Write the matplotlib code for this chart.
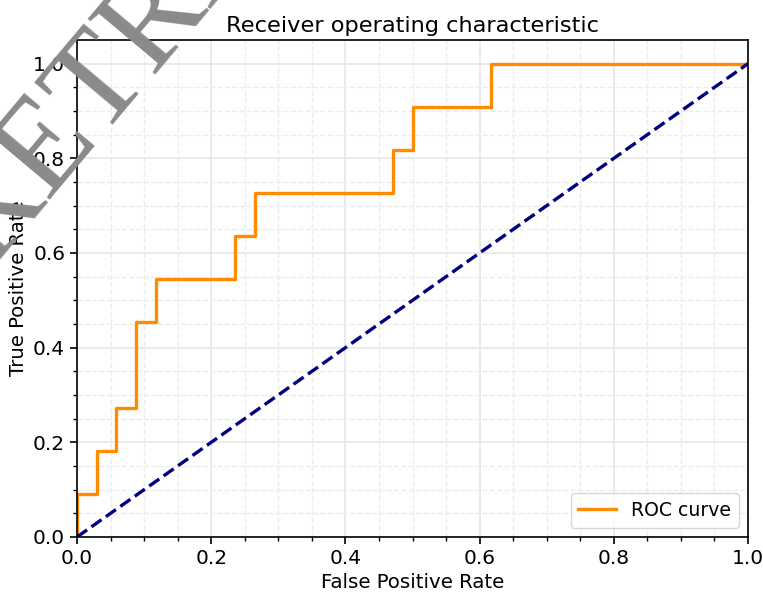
import matplotlib
matplotlib.use("Agg")
import matplotlib.pyplot as plt
from matplotlib.ticker import MultipleLocator

# ROC curve points (34 negatives, 11 positives)
fpr_counts = [0, 0, 1, 1, 2, 2, 3, 3, 4, 4, 8, 8, 9, 9, 16, 16, 17, 17, 21, 21, 34]
tpr_counts = [0, 1, 1, 2, 2, 3, 3, 5, 5, 6, 6, 7, 7, 8, 8, 9, 9, 10, 10, 11, 11]
n_neg = 34
n_pos = 11
fpr = [c / n_neg for c in fpr_counts]
tpr = [c / n_pos for c in tpr_counts]

chance_x = [0, 1]
chance_y = [0, 1]

fig = plt.figure(figsize=(7.63, 5.94), dpi=100)
ax = fig.add_axes([77 / 763, 1 - 537 / 594, 671 / 763, 497 / 594])

ax.plot(fpr, tpr, color="darkorange", lw=2.4, label="ROC curve")
ax.plot(chance_x, chance_y, color="navy", lw=2.4, linestyle="--")

ax.set_xlim(0.0, 1.0)
ax.set_ylim(0.0, 1.05)
ax.xaxis.set_major_locator(MultipleLocator(0.2))
ax.yaxis.set_major_locator(MultipleLocator(0.2))
ax.xaxis.set_minor_locator(MultipleLocator(0.05))
ax.yaxis.set_minor_locator(MultipleLocator(0.05))
ax.grid(which="major", color="#e6e6e6", linestyle="-", linewidth=1.2)
ax.grid(which="minor", color="#ececec", linestyle="--", linewidth=1.0)
ax.set_axisbelow(True)
ax.tick_params(which="major", labelsize=14.5, length=5, width=1.2)
ax.tick_params(which="minor", length=3, width=1.0)
for s in ax.spines.values():
    s.set_linewidth(1.2)

ax.set_xlabel("False Positive Rate", fontsize=14.2)
ax.set_ylabel("True Positive Rate", fontsize=14.2)
ax.set_title("Receiver operating characteristic", fontsize=16.2)
ax.legend(loc="lower right", fontsize=13.6)

fig.text(-36 / 763, 1 - 246 / 594, "RETRACTED", fontsize=96, family="Liberation Serif",
         color="#8a8a8a", rotation=50, ha="left", va="center",
         rotation_mode="anchor", zorder=10)

fig.savefig("out.png", dpi=100)
